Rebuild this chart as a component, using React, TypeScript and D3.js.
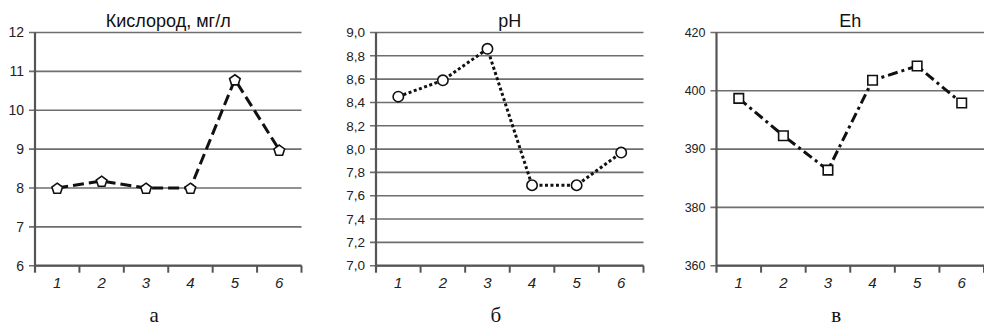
import React from "react";
import * as d3 from "d3";

const categories = ["1", "2", "3", "4", "5", "6"];

const oxygenValues = [8.0, 8.18, 8.0, 8.0, 10.79, 8.98];
const oxygenTicks = [6, 7, 8, 9, 10, 11, 12];

const phValues = [8.45, 8.59, 8.86, 7.69, 7.69, 7.97];
const phTicks = [7.0, 7.2, 7.4, 7.6, 7.8, 8.0, 8.2, 8.4, 8.6, 8.8, 9.0];

const ehValues = [398.7, 392.3, 386.4, 403.6, 408.5, 397.9];
const ehTicks = [360, 380, 390, 400, 420];

const TOP = 32.5;
const BOTTOM = 265.7;
const SANS = "Liberation Sans, Arial, sans-serif";

const pentagon = (r: number) => {
  const pts = d3.range(5).map((i) => {
    const a = -Math.PI / 2 + (i * 2 * Math.PI) / 5;
    return [Math.cos(a) * r, Math.sin(a) * r + 0.8];
  });
  return "M" + pts.map((p) => p.join(",")).join("L") + "Z";
};

type PanelProps = {
  x0: number;
  x1: number;
  title: string;
  caption: string;
  values: number[];
  ticks: number[];
  fmt: (v: number) => string;
  dash: string;
  marker: string;
  tickSize: number;
};

function Panel({ x0, x1, title, caption, values, ticks, fmt, dash, marker, tickSize }: PanelProps) {
  const x = d3.scaleBand<string>().domain(categories).range([x0, x1]);
  // evenly spaced ticks (Eh axis is not linear)
  const y = d3
    .scaleLinear()
    .domain(ticks)
    .range(ticks.map((_, i) => BOTTOM - (i * (BOTTOM - TOP)) / (ticks.length - 1)));

  const line = d3
    .line<number>()
    .x((_, i) => x(categories[i])! + x.bandwidth() / 2)
    .y((d) => y(d));

  let sym = "";
  if (marker === "pentagon") sym = pentagon(5.6);
  else if (marker === "circle") sym = d3.symbol(d3.symbolCircle, 85)()!;
  else sym = d3.symbol(d3.symbolSquare, 90)()!;

  const cx = (x0 + x1) / 2;

  return (
    <g>
      {ticks.map((t) => (
        <g key={t}>
          <line x1={x0 - 6} x2={x1} y1={y(t)} y2={y(t)} stroke="#6e6e6e" strokeWidth={1.6} />
          <text
            x={x0 - 11}
            y={y(t)}
            dy="0.35em"
            textAnchor="end"
            fontSize={tickSize}
            fill="#222"
            fontFamily={SANS}
          >
            {fmt(t)}
          </text>
        </g>
      ))}
      <line x1={x0} x2={x0} y1={TOP} y2={BOTTOM + 7} stroke="#555" strokeWidth={2.2} />
      <line x1={x0} x2={x1} y1={BOTTOM} y2={BOTTOM} stroke="#555" strokeWidth={2.2} />
      {categories.map((c) => (
        <line
          key={"t" + c}
          x1={x(c)! + x.bandwidth()}
          x2={x(c)! + x.bandwidth()}
          y1={BOTTOM}
          y2={BOTTOM + 7}
          stroke="#555"
          strokeWidth={2}
        />
      ))}
      {categories.map((c) => (
        <text
          key={"l" + c}
          x={x(c)! + x.bandwidth() / 2}
          y={BOTTOM + 22}
          textAnchor="middle"
          fontSize={15}
          fontStyle="italic"
          fill="#222"
          fontFamily={SANS}
        >
          {c}
        </text>
      ))}
      <path d={line(values)!} fill="none" stroke="#111" strokeWidth={3} strokeDasharray={dash} />
      {values.map((v, i) => (
        <path
          key={i}
          d={sym}
          transform={`translate(${x(categories[i])! + x.bandwidth() / 2},${y(v)})`}
          fill="#fff"
          stroke="#111"
          strokeWidth={1.6}
        />
      ))}
      <text x={cx} y={27} textAnchor="middle" fontSize={18} fill="#111" fontFamily={SANS}>
        {title}
      </text>
      <text
        x={cx - 14}
        y={322}
        textAnchor="middle"
        fontSize={21}
        fill="#111"
        fontFamily="Liberation Serif, Times New Roman, serif"
      >
        {caption}
      </text>
    </g>
  );
}

export default function App() {
  return (
    <svg
      width={984}
      height={328}
      style={{ position: "absolute", left: 0, top: 0, background: "#fff" }}
    >
      <rect width={984} height={328} fill="#fff" />
      <Panel
        x0={35}
        x1={301.5}
        title="Кислород, мг/л"
        caption="а"
        values={oxygenValues}
        ticks={oxygenTicks}
        fmt={(v) => String(v)}
        dash="11,5"
        marker="pentagon"
        tickSize={14}
      />
      <Panel
        x0={376}
        x1={643.5}
        title="pH"
        caption="б"
        values={phValues}
        ticks={phTicks}
        fmt={(v) => v.toFixed(1).replace(".", ",")}
        dash="3,2.5"
        marker="circle"
        tickSize={13.5}
      />
      <Panel
        x0={716.5}
        x1={984}
        title="Eh"
        caption="в"
        values={ehValues}
        ticks={ehTicks}
        fmt={(v) => String(v)}
        dash="10,4,3,4"
        marker="square"
        tickSize={12.5}
      />
    </svg>
  );
}
